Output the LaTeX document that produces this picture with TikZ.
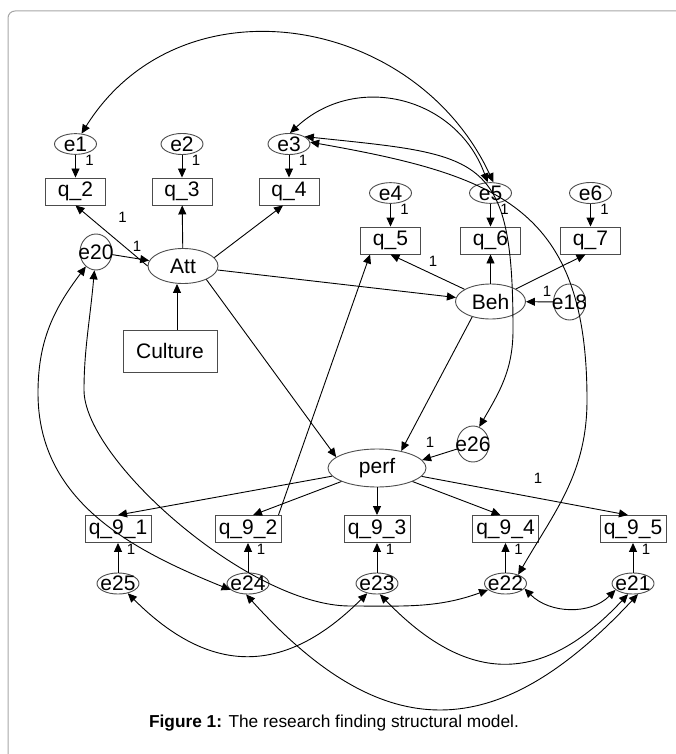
\documentclass[tikz,border=0pt]{standalone}
\usepackage{fontspec}
\setmainfont{Liberation Sans}
\usetikzlibrary{shapes.geometric,arrows.meta}

\tikzstyle{obs} = [draw=black!70, rectangle, minimum width=60pt,
    minimum height=27pt, inner sep=0pt, font=\fontsize{21}{23}\selectfont]
\tikzstyle{obsw} = [obs, minimum width=66pt]
\tikzstyle{lat} = [draw=black!70, ellipse, minimum width=70pt,
    minimum height=35pt, inner sep=0pt, font=\fontsize{21}{23}\selectfont]
\tikzstyle{err} = [lat, minimum width=42pt, minimum height=18pt]
\tikzstyle{res} = [lat, minimum width=32pt, minimum height=36pt]
\tikzstyle{wt} = [inner sep=0pt, font=\fontsize{15}{16}\selectfont]
\tikzstyle{arr} = [draw, -{Triangle[length=9pt,width=8pt]}]
\tikzstyle{cov} = [draw, {Triangle[length=9pt,width=8pt]}-{Triangle[length=9pt,width=8pt]}]
\newcommand{\ov}[1]{\makebox[0pt]{#1}}

\begin{document}
\begin{tikzpicture}[x=1pt, y=-1pt, line width=0.9pt]
    \useasboundingbox (0,0) rectangle (676,754);
    % page frame, only left and top edges show
    \draw [black!35, line width=1pt, rounded corners=7pt] (8,780) -- (8,11) -- (700,11);

    % latent variables
    \node (att) [lat] at (183,266) {Att};
    \node (beh) [lat] at (490.5,301.5) {Beh};
    \node (perf) [lat, minimum width=98pt, minimum height=38pt] at (377,468) {perf};
    \node (culture) [obs, minimum width=94pt, minimum height=42pt] at (170,351) {Culture};

    % indicators with their error terms
    \node (q2) [obs] at (75.5,191.5) {q\_2};
    \node (q3) [obs] at (182,191.5) {q\_3};
    \node (q4) [obs] at (289,191.5) {q\_4};
    \node (q5) [obs] at (390.5,240.5) {q\_5};
    \node (q6) [obs] at (490.5,240.5) {q\_6};
    \node (q7) [obs] at (590.5,240.5) {q\_7};
    \path (q2)+(0,-47.5) node (e1) [err] {\ov{e1}};
    \path (q3)+(0,-47.5) node (e2) [err] {\ov{e2}};
    \path (q4)+(0,-47.5) node (e3) [err] {\ov{e3}};
    \path (q5)+(0,-47.5) node (e4) [err] {\ov{e4}};
    \path (q6)+(0,-47.5) node (e5) [err] {\ov{e5}};
    \path (q7)+(0,-47.5) node (e6) [err] {\ov{e6}};

    \node (q91) [obsw] at (118,529) {q\_9\_1};
    \node (q92) [obsw] at (248,529) {q\_9\_2};
    \node (q93) [obsw] at (377,529) {q\_9\_3};
    \node (q94) [obsw] at (505.5,529) {q\_9\_4};
    \node (q95) [obsw] at (633,529) {q\_9\_5};
    \path (q91)+(0,54.5) node (e25) [err] {\ov{e25}};
    \path (q92)+(0,54.5) node (e24) [err] {\ov{e24}};
    \path (q93)+(0,54.5) node (e23) [err] {\ov{e23}};
    \path (q94)+(0,54.5) node (e22) [err] {\ov{e22}};
    \path (q95)+(0,54.5) node (e21) [err] {\ov{e21}};

    % disturbances
    \node (e20) [res] at (96,252) {\ov{e20}};
    \node (e18) [res] at (569.5,302) {\ov{e18}};
    \node (e26) [res] at (473,444) {\ov{e26}};

    % regression paths
    \foreach \e/\q in {e1/q2,e2/q3,e3/q4,e4/q5,e5/q6,e6/q7,e25/q91,e24/q92,e23/q93,e22/q94,e21/q95}
        \path [arr] (\e) -- (\q);
    \foreach \e in {e1,e2,e3,e4,e5,e6}
        \path (\e)+(14,16) node (w\e) [wt] {1};
    \foreach \q in {q91,q92,q93,q94,q95}
        \path (\q)+(13,20) node (w\q) [wt] {1};

    \path [arr] (att.west) -- (q2.south);
    \path [arr] (att) -- (q3);
    \path [arr] (att.15) -- ([xshift=-6pt]q4.south);
    \path [arr] (e20) -- (att);
    \path [arr] ([xshift=7pt]culture.north) -- ([xshift=-6pt]att.south);
    \path [arr] (att) -- (beh);
    \path [arr] (att.-30) -- (perf.165);
    \path [arr] (beh) -- (q5.south);
    \path [arr] (beh) -- (q6);
    \path [arr] (beh) -- ([xshift=-5pt]q7.south);
    \path [arr] (e18) -- (beh);
    \path [arr] (beh.-140) -- (perf.35);
    \path [arr] (e26) -- (perf.10);
    \path [arr] (perf) -- (q91.north);
    \path [arr] (perf) -- ([xshift=5pt]q92.north);
    \path [arr] (perf) -- (q93);
    \path [arr] (perf) -- ([xshift=-5pt]q94.north);
    \path [arr] (perf) -- ([xshift=-5pt]q95.north);
    \path [arr] ([xshift=-3pt]q92.north east) -- ([xshift=10pt]q5.south west);

    \path (att.west)+(-25,-49) node (wq2) [wt] {1};
    \path (att)+(-46,-20) node (watt) [wt] {1};
    \path (beh)+(-57.5,-40) node (wq5) [wt] {1};
    \path (e18)+(-22.5,-11) node (wbeh) [wt] {1};
    \path (e26)+(-43,-2) node (wperf) [wt] {1};
    \path (perf)+(161,10) node (wq95) [wt] {1};

    % covariances
    \path [cov] (e1.60) to[out=58,in=115,looseness=1.15] (e5.75);
    \path [cov] (e3.85) to[out=43,in=110,looseness=1.14] (e5.105);
    \path [cov] (e3.25) to[out=-6,in=90,looseness=1.6] (513,330)
        to[out=-90,in=60] (e26.70);
    \path [cov] (e3.5) to[out=-10,in=90,looseness=1.3] (587,400)
        to[out=-90,in=60] (e22.35);
    \path [cov] (e20.-125) to[out=-127,in=90] (38,393)
        to[out=-90,in=158] (e24.200);
    \path [cov] (e20.-95) .. controls (90,320) and (84,350) .. (84,390)
        .. controls (84,460) and (250,606) .. (350,606)
        to[out=0,in=-160] (e22.-160);
    \path [cov] (e22.-15) to[out=-45,in=-135] (e21.200);
    \path [cov] (e25.-45) to[out=-45,in=-135,looseness=1.25] (e23.-135);
    \path [cov] (e24.-100) to[out=-48,in=-133,looseness=1.35] (e21.-65);
    \path [cov] (e23.-75) to[out=-46,in=-133,looseness=1.3] (e21.-115);

    \node (caption) at (334,723) [font=\fontsize{17.3}{19}\selectfont]
        {\textbf{Figure 1:} The research finding structural model.};
\end{tikzpicture}
\end{document}
